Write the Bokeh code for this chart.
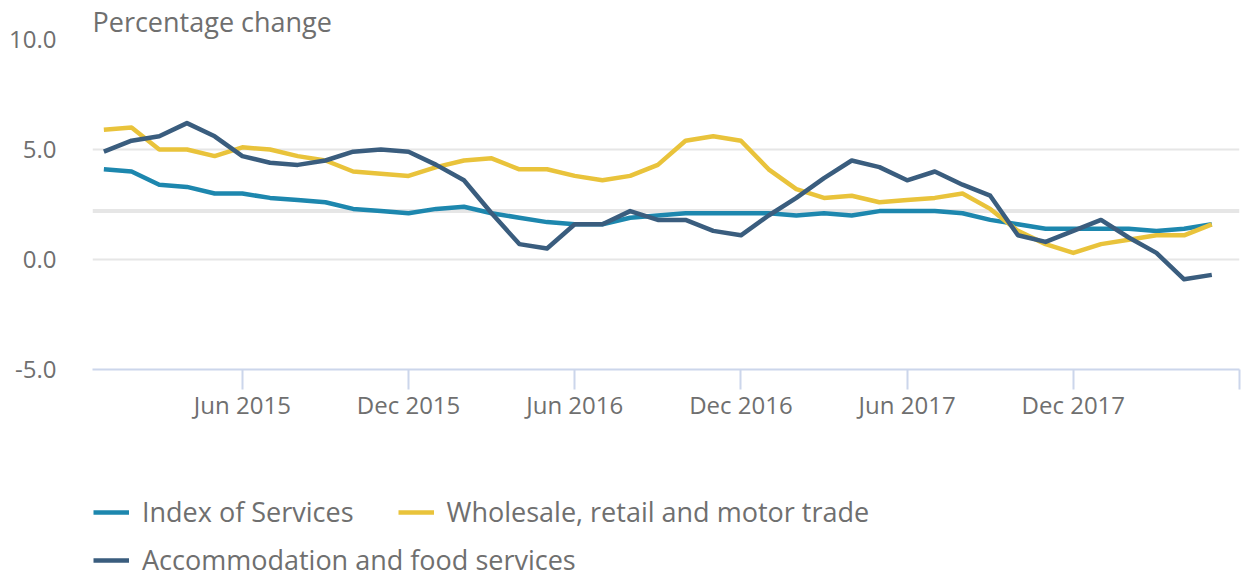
from bokeh.plotting import figure
from bokeh.layouts import column
from bokeh.models import Legend, LegendItem, FixedTicker, Span, Range1d, ColumnDataSource
from bokeh.embed import file_html
from bokeh.resources import INLINE

# ---------------- data ----------------
month_names = ["Jan", "Feb", "Mar", "Apr", "May", "Jun",
               "Jul", "Aug", "Sep", "Oct", "Nov", "Dec"]
months = [f"{m} {y}" for y in (2015, 2016, 2017, 2018) for m in month_names][:41]  # Jan 2015 .. May 2018

index_of_services = [4.1, 4.0, 3.4, 3.3, 3.0, 3.0, 2.8, 2.7, 2.6, 2.3,
                     2.2, 2.1, 2.3, 2.4, 2.1, 1.9, 1.7, 1.6, 1.6, 1.9,
                     2.0, 2.1, 2.1, 2.1, 2.1, 2.0, 2.1, 2.0, 2.2, 2.2,
                     2.2, 2.1, 1.8, 1.6, 1.4, 1.4, 1.4, 1.4, 1.3, 1.4,
                     1.6]
wholesale_retail_motor = [5.9, 6.0, 5.0, 5.0, 4.7, 5.1, 5.0, 4.7, 4.5, 4.0,
                          3.9, 3.8, 4.2, 4.5, 4.6, 4.1, 4.1, 3.8, 3.6, 3.8,
                          4.3, 5.4, 5.6, 5.4, 4.1, 3.2, 2.8, 2.9, 2.6, 2.7,
                          2.8, 3.0, 2.3, 1.3, 0.7, 0.3, 0.7, 0.9, 1.1, 1.1,
                          1.6]
accommodation_food = [4.9, 5.4, 5.6, 6.2, 5.6, 4.7, 4.4, 4.3, 4.5, 4.9,
                      5.0, 4.9, 4.3, 3.6, 2.1, 0.7, 0.5, 1.6, 1.6, 2.2,
                      1.8, 1.8, 1.3, 1.1, 2.0, 2.8, 3.7, 4.5, 4.2, 3.6,
                      4.0, 3.4, 2.9, 1.1, 0.8, 1.3, 1.8, 1.0, 0.3, -0.9,
                      -0.7]

series_names = ["Index of Services", "Wholesale, retail and motor trade",
                "Accommodation and food services"]
x_tick_labels = ["Jun 2015", "Dec 2015", "Jun 2016", "Dec 2016", "Jun 2017", "Dec 2017"]
y_ticks = [-5, 0, 5, 10]
y_tick_labels = ["-5.0", "0.0", "5.0", "10.0"]
reference_level = 2.2

# ---------------- styling ----------------
FONT = "Open Sans"
TEXT = "#6f6f6f"
GRID = "#e6e6e6"
AXIS = "#ccd6eb"
colors = ["#1d87ae", "#e9c33b", "#3a5d7e"]
LW = 4.5
cols = ["ios", "wrm", "afs"]

x = list(range(len(months)))
source = ColumnDataSource(dict(x=x, ios=index_of_services,
                               wrm=wholesale_retail_motor, afs=accommodation_food))

# ---------------- main chart ----------------
p = figure(width=1241, height=430, output_backend="svg", toolbar_location=None,
           x_range=Range1d(-0.41, len(months)), y_range=Range1d(-5, 10),
           min_border_left=92, min_border_right=2, min_border_top=39,
           min_border_bottom=61, outline_line_color=None,
           background_fill_color="white", border_fill_color="white")

p.title.text = "Percentage change"
p.title.align = "left"
p.title.text_font = FONT
p.title.text_font_size = "27px"
p.title.text_font_style = "normal"
p.title.text_color = TEXT
p.title.standoff = 0
p.title.offset = 0

p.xgrid.visible = False
p.ygrid.ticker = FixedTicker(ticks=y_ticks)
p.ygrid.grid_line_color = GRID
p.ygrid.grid_line_width = 2

p.add_layout(Span(location=reference_level, dimension="width", line_color=GRID,
                  line_width=4, level="underlay"))

yax = p.yaxis[0]
yax.ticker = FixedTicker(ticks=y_ticks)
yax.major_label_overrides = {t: l for t, l in zip(y_ticks, y_tick_labels)}
yax.axis_line_color = None
yax.major_tick_line_color = None
yax.minor_tick_line_color = None
yax.major_label_standoff = 30
yax.major_label_text_font = FONT
yax.major_label_text_font_size = "24px"
yax.major_label_text_color = TEXT

xax = p.xaxis[0]
x_ticks = [months.index(t) for t in x_tick_labels] + [len(months)]
xax.ticker = FixedTicker(ticks=x_ticks)
overrides = {months.index(t): t for t in x_tick_labels}
overrides[len(months)] = ""
xax.major_label_overrides = overrides
xax.axis_line_color = AXIS
xax.axis_line_width = 2
xax.major_tick_line_color = AXIS
xax.major_tick_line_width = 2
xax.major_tick_out = 20
xax.major_tick_in = 0
xax.minor_tick_line_color = None
xax.major_label_standoff = -2
xax.major_label_text_font = FONT
xax.major_label_text_font_size = "24px"
xax.major_label_text_color = TEXT

for col, c in zip(cols, colors):
    p.line("x", col, source=source, line_color=c, line_width=LW,
           line_join="round", line_cap="butt")

# ---------------- legend strip (series drawn off-frame, only swatches show) ----------------
lp = figure(width=1241, height=148, output_backend="svg", toolbar_location=None,
            x_range=Range1d(0, 1), y_range=Range1d(1000, 1001),
            x_axis_location=None, y_axis_location=None,
            min_border_left=0, min_border_right=0, min_border_top=0, min_border_bottom=0,
            outline_line_color=None, background_fill_color="white",
            border_fill_color="white")
lp.xgrid.visible = False
lp.ygrid.visible = False

swatches = [lp.line("x", col, source=source, line_color=c, line_width=LW, line_cap="butt")
            for col, c in zip(cols, colors)]

def make_legend(items, loc):
    return Legend(items=items, location=loc, orientation="horizontal",
                  border_line_color=None, background_fill_alpha=0,
                  padding=0, margin=0, spacing=44,
                  glyph_width=36, glyph_height=30, label_height=30,
                  label_standoff=13,
                  label_text_font=FONT, label_text_font_size="27px",
                  label_text_color=TEXT)

leg1 = make_legend([LegendItem(label=series_names[0], renderers=[swatches[0]]),
                    LegendItem(label=series_names[1], renderers=[swatches[1]])],
                   (1, 48))
leg2 = make_legend([LegendItem(label=series_names[2], renderers=[swatches[2]])],
                   (1, 0))
lp.add_layout(leg1)
lp.add_layout(leg2)

layout = column(p, lp, spacing=0)
open("out.html", "w").write(file_html(layout, INLINE))
